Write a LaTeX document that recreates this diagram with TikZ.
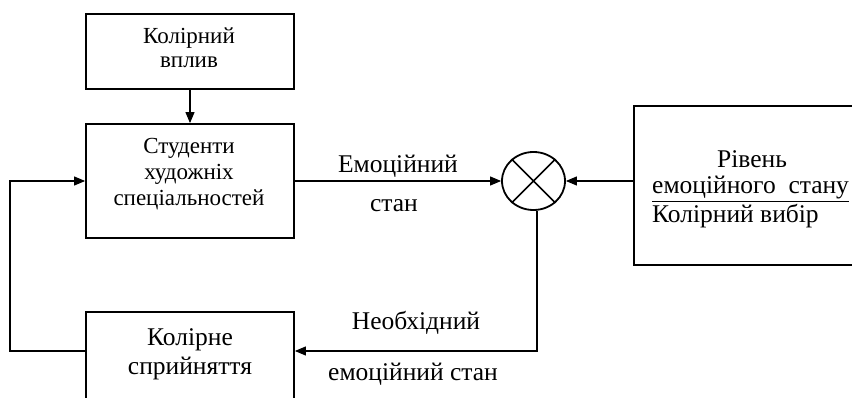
\documentclass[tikz,border=0pt]{standalone}
\usepackage{fontspec}
\setmainfont{Liberation Serif}
\usetikzlibrary{arrows.meta,shapes.geometric}

\tikzset{
  block/.style={draw, line width=1.8pt, inner sep=0pt},
  small/.style={font=\fontsize{23}{25}\selectfont, inner sep=0pt, anchor=base},
  large/.style={font=\fontsize{25.5}{28}\selectfont, inner sep=0pt, anchor=base},
  arr/.style={line width=1.1pt, -{Triangle[length=11pt,width=9pt]}},
}

\begin{document}
\begin{tikzpicture}[x=1pt,y=-1pt]
  \useasboundingbox (0,0) rectangle (852,398);
  \clip (0,0) rectangle (852,398);

  % blocks
  \node[block, minimum width=208, minimum height=75] (b1) at (190,51.5) {};
  \node[block, minimum width=208, minimum height=114] (b2) at (190,181) {};
  \node[block, minimum width=208, minimum height=110] (b3) at (190,367) {};
  \node[block, minimum width=250, minimum height=159] (rb) at (759,185.5) {};
  \node[draw, ellipse, line width=1.8pt, minimum width=63, minimum height=58, inner sep=0pt] (sum) at (533.5,181) {};
  \draw[line width=1.6pt] (sum.135) -- (sum.-45) (sum.45) -- (sum.-135);

  % block texts
  \node[small] (t1a) at (189,44) {Колірний};
  \node[small] (t1b) at (189,68) {вплив};
  \node[small] (t2a) at (189,154) {Студенти};
  \node[small] (t2b) at (189,180) {художніх};
  \node[small] (t2c) at (189,206) {спеціальностей};
  \node[large] (t3a) at (190,345) {Колірне};
  \node[large] (t3b) at (190,374) {сприйняття};
  \node[large] (r1) at (752,168) {Рівень};
  \node[large, anchor=base west] (r2) at (652,194) {\underline{емоційного\ \ стану}};
  \node[large, anchor=base west] (r3) at (652,223) {Колірний вибір};

  % connector labels
  \node[large] (l1) at (398,173) {Емоційний};
  \node[large] (l2) at (394,212) {стан};
  \node[large] (l3) at (416,330) {Необхідний};
  \node[large] (l4) at (413,380) {емоційний стан};

  % connectors
  \coordinate (jR) at (537,351);
  \coordinate (jL) at (10,351);
  \draw[arr] (b1) -- (b2);
  \draw[arr] (b2.east) -- (sum.west);
  \draw[arr] (rb.west |- sum) -- (sum.east);
  \draw[arr] (sum.south -| jR) -- (jR) -- (b3.east |- jR);
  \draw[arr] (b3.west |- jL) -- (jL) |- (b2.west);
\end{tikzpicture}
\end{document}
